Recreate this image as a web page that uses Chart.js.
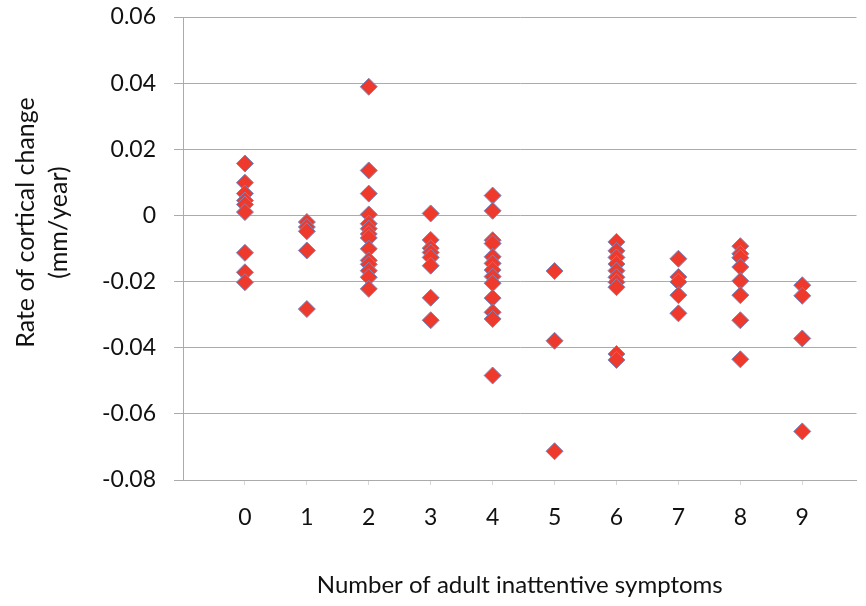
<!DOCTYPE html>
<html>
<head>
<meta charset="utf-8">
<script src="https://cdn.jsdelivr.net/npm/chart.js@4/dist/chart.umd.min.js"></script>
<style>
  html, body { margin: 0; padding: 0; background: #ffffff; }
  #wrap { width: 866px; height: 606px; }
</style>
</head>
<body>
<div id="wrap"><canvas id="c" width="866" height="606"></canvas></div>
<script>
// Number of adult inattentive symptoms (x categories)
const categories = [0, 1, 2, 3, 4, 5, 6, 7, 8, 9];
// Rate of cortical change (mm/year) read for each symptom count
const rates0 = [0.0157, 0.0099, 0.0066, 0.0045, 0.0033, 0.001, -0.0113, -0.0172, -0.0202];
const rates1 = [-0.002, -0.0035, -0.0048, -0.0106, -0.0283];
const rates2 = [0.0389, 0.0136, 0.0066, 0.0003, -0.0025, -0.004, -0.0056, -0.0068, -0.0101, -0.0136, -0.0148, -0.0167, -0.0187, -0.0222];
const rates3 = [0.0006, -0.0074, -0.0099, -0.0112, -0.0127, -0.0152, -0.0249, -0.0317];
const rates4 = [0.006, 0.0014, -0.0075, -0.0085, -0.0125, -0.0145, -0.0165, -0.0185, -0.0205, -0.025, -0.0293, -0.0313, -0.0484];
const rates5 = [-0.0168, -0.0379, -0.0713];
const rates6 = [-0.008, -0.0107, -0.0127, -0.0147, -0.0167, -0.0187, -0.0202, -0.0217, -0.0419, -0.0437];
const rates7 = [-0.0131, -0.0186, -0.0201, -0.0241, -0.0296];
const rates8 = [-0.0093, -0.0116, -0.0128, -0.0156, -0.0198, -0.0241, -0.0317, -0.0435];
const rates9 = [-0.0211, -0.0243, -0.0372, -0.0653];
const yTickValues = [-0.08, -0.06, -0.04, -0.02, 0, 0.02, 0.04, 0.06];
const xTitle = 'Number of adult inattentive symptoms';
const yTitle = ['Rate of cortical change', '(mm/year)'];

const groups = [rates0, rates1, rates2, rates3, rates4, rates5, rates6, rates7, rates8, rates9];
const points = [];
categories.forEach((c, i) => groups[i].forEach(v => points.push({ x: c, y: v })));

const FONT = 'Lato';
const gridColor = '#ababab';
const Y_TITLE_SHIFT = -26;

new Chart(document.getElementById('c'), {
  type: 'scatter',
  data: {
    datasets: [{
      data: points,
      pointStyle: 'rectRot',
      pointRadius: 8.5,
      pointHoverRadius: 8.5,
      pointBackgroundColor: '#ee3a2c',
      pointBorderColor: '#7488c4',
      pointBorderWidth: 1
    }]
  },
  options: {
    responsive: false,
    animation: false,
    events: [],
    layout: { padding: { top: 17, right: 0, bottom: 0, left: 0 } },
    plugins: { legend: { display: false }, tooltip: { enabled: false } },
    scales: {
      x: {
        type: 'linear',
        min: -1,
        max: 9.876,
        afterFit: s => { s.height = 126; s.paddingRight = 0; },
        afterBuildTicks: s => {
          s.ticks = categories.map(v => ({ value: v }));
        },
        ticks: {
          stepSize: 1,
          padding: 19,
          color: '#111',
          font: { family: FONT, size: 23 },
          callback: v => String(v)
        },
        grid: {
          display: true,
          drawOnChartArea: false,
          drawTicks: true,
          tickLength: 5,
          color: '#d8d8d8'
        },
        border: { display: true, color: gridColor, width: 1 },
        title: {
          display: true,
          text: xTitle,
          color: '#111',
          font: { family: FONT, size: 24 },
          padding: { top: 0, bottom: 6 }
        }
      },
      y: {
        type: 'linear',
        min: -0.08,
        max: 0.06,
        afterFit: s => { s.width = 183; s.paddingTop = 0; s.paddingBottom = 0; },
        afterUpdate: s => {
          if (!s._titleShifted) {
            const orig = s.drawTitle;
            s.drawTitle = function () {
              this.ctx.save();
              this.ctx.translate(0, Y_TITLE_SHIFT);
              orig.call(this);
              this.ctx.restore();
            };
            s._titleShifted = true;
          }
        },
        afterBuildTicks: s => {
          s.ticks = yTickValues.map(v => ({ value: v }));
        },
        ticks: {
          padding: 18,
          color: '#111',
          font: { family: FONT, size: 23 },
          callback: v => (Math.abs(v) < 1e-9 ? '0' : Number(v).toFixed(2))
        },
        grid: {
          display: true,
          drawOnChartArea: true,
          drawTicks: true,
          tickLength: 9,
          color: gridColor,
          lineWidth: 1
        },
        border: { display: true, color: gridColor, width: 1 },
        title: {
          display: true,
          text: yTitle,
          color: '#111',
          font: { family: FONT, size: 25, lineHeight: 1.3 },
          padding: { top: 10, bottom: 0 }
        }
      }
    }
  }
});
</script>
</body>
</html>
